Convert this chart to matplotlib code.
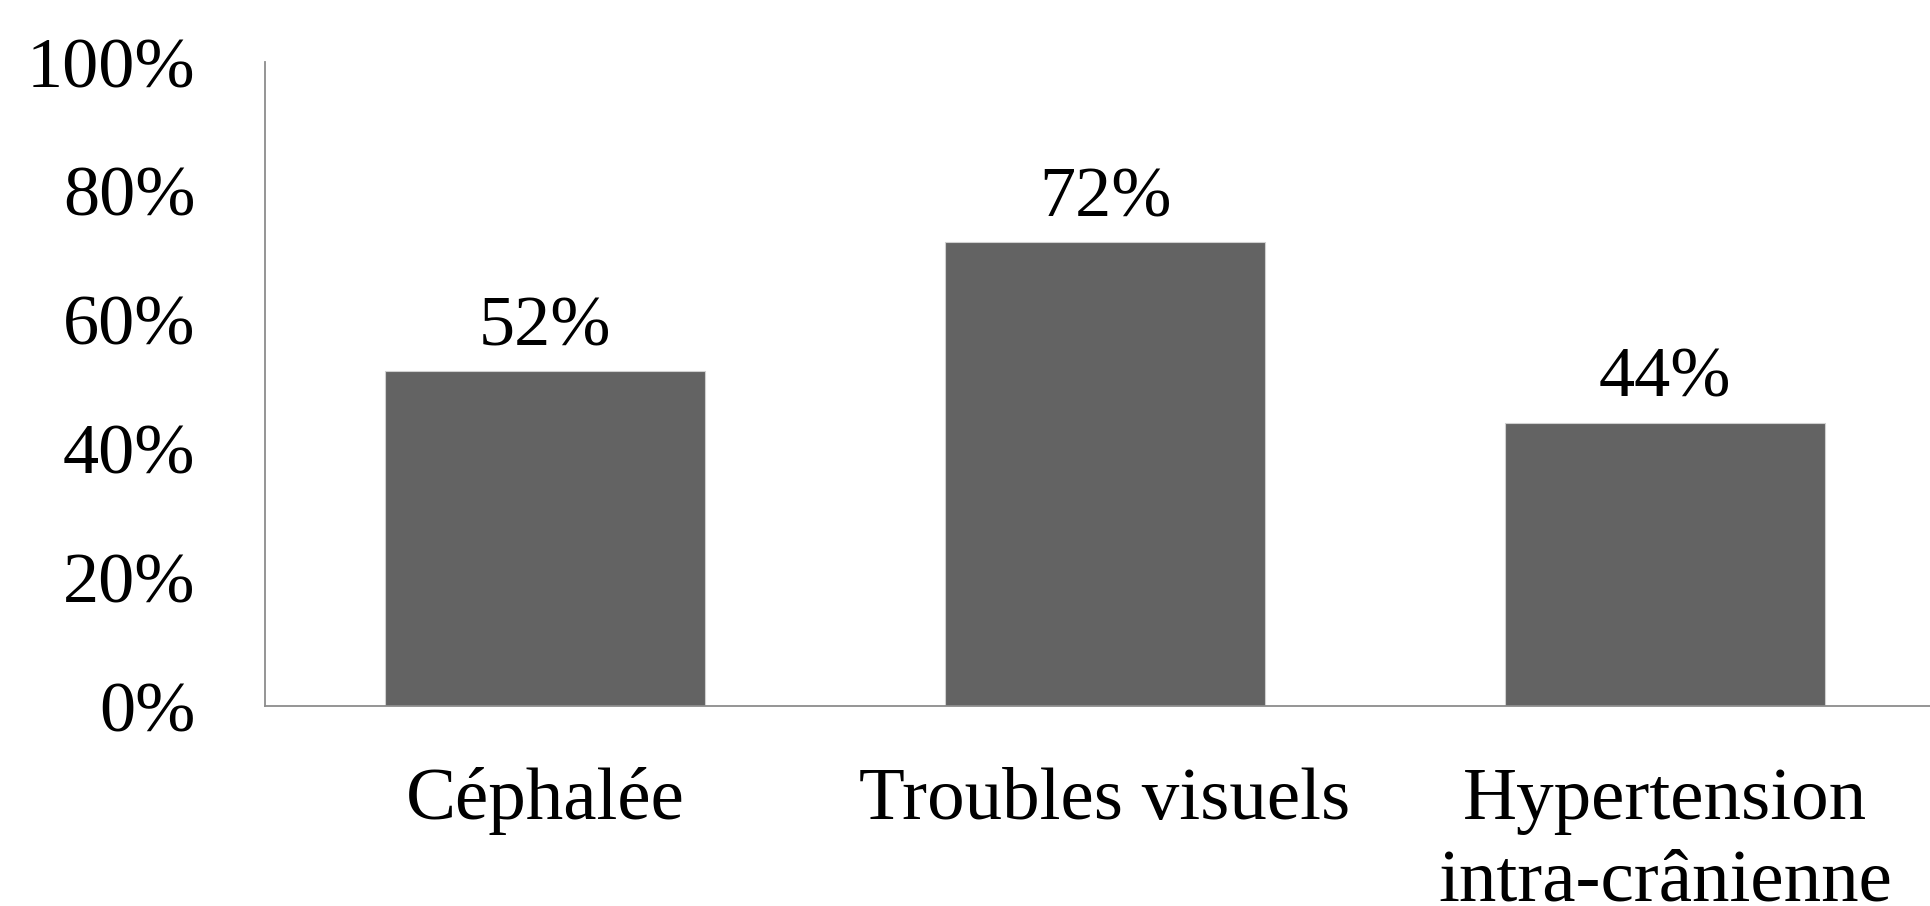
import matplotlib
matplotlib.use("Agg")
import matplotlib.pyplot as plt
from matplotlib.ticker import FuncFormatter

categories = ["Céphalée", "Troubles visuels", "Hypertension\nintra-crânienne"]
values = [0.52, 0.72, 0.44]
yticks = [0, 0.2, 0.4, 0.6, 0.8, 1.0]

plt.rcParams["font.family"] = ["Liberation Serif", "DejaVu Serif"]

fig = plt.figure(figsize=(19.30, 9.06), dpi=100)
ax = fig.add_axes([265 / 1930, 200 / 906, 1680 / 1930, 644 / 906])

x = list(range(len(categories)))
bars = ax.bar(x, values, width=0.571, color="#636363", edgecolor="#d0d0d0", linewidth=0.8)

for b, v in zip(bars, values):
    ax.annotate(f"{v*100:.0f}%", (b.get_x() + b.get_width() / 2, v),
                xytext=(0, 8), textcoords="offset points",
                ha="center", va="bottom", fontsize=52)

ax.set_xlim(-0.5, 2.5)
ax.set_ylim(0, 1.0)
ax.set_yticks(yticks)
ax.yaxis.set_major_formatter(FuncFormatter(lambda v, p: f"{v*100:.0f}%"))
ax.set_xticks(x)
ax.set_xticklabels(categories, linespacing=1.27)

ax.tick_params(axis="y", length=0, pad=50, labelsize=52)
ax.tick_params(axis="x", length=0, pad=44, labelsize=54)

for s in ["top", "right"]:
    ax.spines[s].set_visible(False)
for s in ["left", "bottom"]:
    ax.spines[s].set_color("#8c8c8c")
    ax.spines[s].set_linewidth(1.3)

fig.savefig("out.png", dpi=100)
